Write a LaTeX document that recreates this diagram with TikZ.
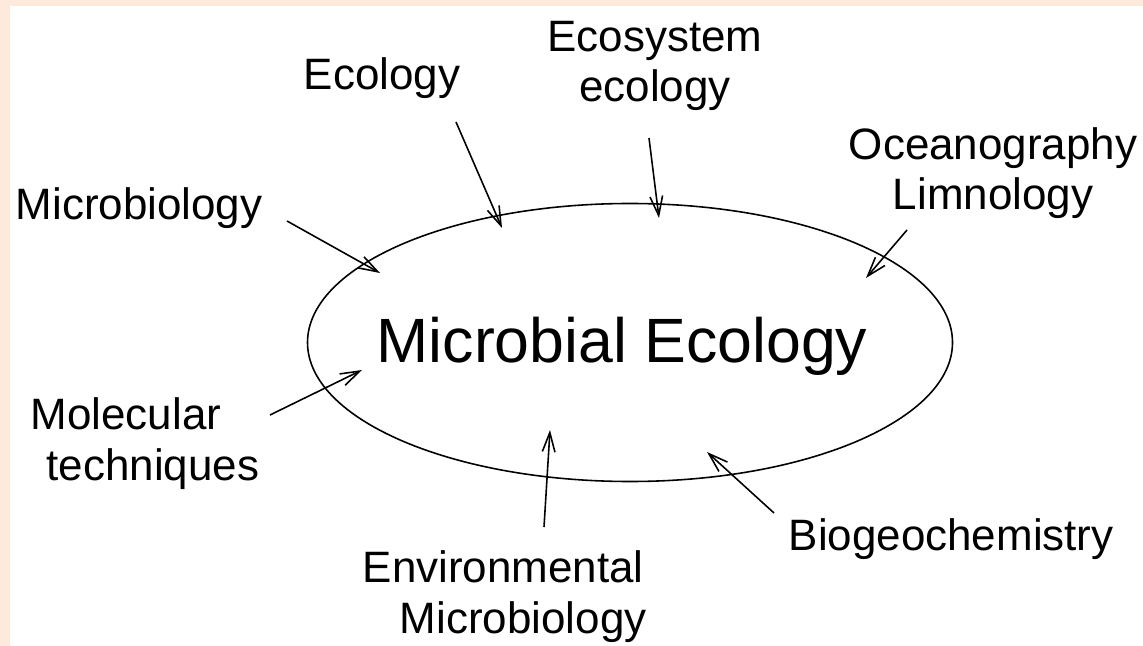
\documentclass[tikz,border=0pt]{standalone}
\usepackage{fontspec}
\setmainfont{Liberation Sans}
\usepackage{xcolor}
\usetikzlibrary{arrows.meta, positioning}

\definecolor{peach}{RGB}{253,234,220}

\tikzset{
    field/.style={inner sep=0pt, font=\fontsize{12.5}{14.5}\selectfont},
    feed/.style={->, line width=0.45pt}
}

\begin{document}
\begin{tikzpicture}[>={Straight Barb[length=5.5pt,width=3.6pt]}, x=0.01cm, y=-0.01cm]

    % =================================================================
    % 1. FRAME: PEACH STRIP ON TOP AND LEFT, WHITE PAGE
    % =================================================================
    \useasboundingbox (0,0) rectangle (1143,646);
    \fill[peach] (0,0) rectangle (1143,646);
    \fill[white] (10,6) rectangle (1143,646);

    % =================================================================
    % 2. CENTRAL ELLIPSE AND TITLE
    % =================================================================
    \draw[line width=0.45pt] (630,342.5) ellipse [x radius=322.5, y radius=139];
    \node[inner sep=0pt, anchor=base, font=\fontsize{17.8}{20}\selectfont] (title) at (622,363) {Microbial Ecology};

    % =================================================================
    % 3. SURROUNDING FIELDS (base = baseline of the last line)
    % =================================================================
    \node[field, anchor=base west] (ecol) at (303,90) {Ecology};
    \node[field, anchor=base, align=center] (ecosys) at (655,102) {Ecosystem\\ecology};
    \node[field, anchor=base, align=center] (ocean) at (993,210) {Oceanography\\Limnology};
    \node[field, anchor=base west] (micro) at (15,220) {Microbiology};
    \node[field, anchor=base west, align=left] (molec) at (30,480) {Molecular\\\hspace*{0.16cm}techniques};
    \node[field, anchor=base west, align=left] (envir) at (362,633) {Environmental\\\hspace*{0.37cm}Microbiology};
    \node[field, anchor=base west] (biogeo) at (788,550) {Biogeochemistry};

    % =================================================================
    % 4. ARROW ENDS (TAIL NEAR A FIELD, TIP INSIDE THE ELLIPSE)
    % =================================================================
    \coordinate (ecolT) at (456,122);    \coordinate (ecolH) at (502,228);
    \coordinate (ecosysT) at (649,138);  \coordinate (ecosysH) at (659,218);
    \coordinate (oceanT) at (907,230);   \coordinate (oceanH) at (866,278);
    \coordinate (microT) at (287,221);   \coordinate (microH) at (380,273);
    \coordinate (molecT) at (270,415);   \coordinate (molecH) at (362,370);
    \coordinate (envirT) at (544,527);   \coordinate (envirH) at (550,430);
    \coordinate (biogeoT) at (774,513);  \coordinate (biogeoH) at (707,452);

    % =================================================================
    % 5. ARROWS
    % =================================================================
    \foreach \f in {ecol, ecosys, ocean, micro, molec, envir, biogeo} {
        \draw[feed] (\f T) -- (\f H);
    }

\end{tikzpicture}
\end{document}
